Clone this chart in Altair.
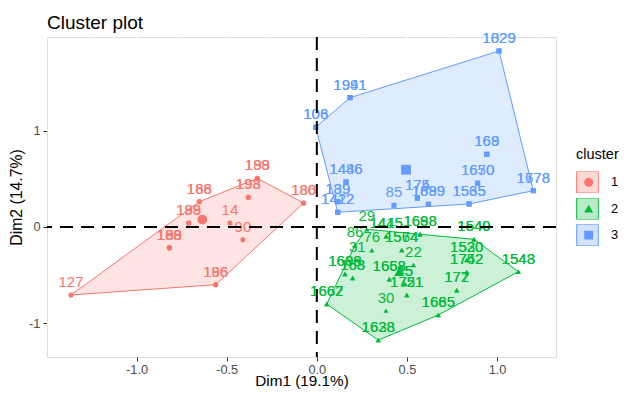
import altair as alt
import pandas as pd

# ---------------- data ----------------
CLUSTERS = ["1", "2", "3"]
COLORS = ["#F8766D", "#00BA38", "#619CFF"]
SHAPES = ["circle", "triangle-up", "square"]

# cluster 1 (duplicates = overlapping observations)
C1_X = [-1.364, -0.561, -0.561, -0.818, -0.818, -0.818, -0.711, -0.711, -0.652, -0.652,
        -0.482, -0.410, -0.380, -0.380, -0.330, -0.330, -0.073, -0.073]
C1_Y = [-0.706, -0.599, -0.599, -0.215, -0.215, -0.215, 0.042, 0.042, 0.263, 0.263,
        0.042, -0.132, 0.308, 0.308, 0.505, 0.505, 0.249, 0.249]
C1_LABEL = ["127", "186", "196", "188", "199", "168", "188", "199", "166", "188",
            "14", "90", "193", "198", "188", "199", "186", "180"]

# cluster 2
C2_X = [0.277, 0.385, 0.385, 0.573, 0.573, 0.872, 0.872, 0.212, 0.305, 0.471, 0.471,
        0.225, 0.536, 0.832, 0.832, 0.832, 0.832, 0.156, 0.156, 0.199, 0.199, 0.402, 0.402,
        0.488, 0.488, 0.499, 0.499, 0.776, 0.776, 1.118, 1.118, 0.055, 0.055, 0.384,
        0.674, 0.674, 0.341, 0.341]
C2_Y = [-0.024, -0.097, -0.097, -0.076, -0.076, -0.128, -0.128, -0.190, -0.242, -0.239, -0.239,
        -0.343, -0.395, -0.343, -0.343, -0.470, -0.470, -0.488, -0.488, -0.530, -0.530, -0.543, -0.543,
        -0.592, -0.592, -0.706, -0.706, -0.657, -0.657, -0.464, -0.464, -0.800, -0.800, -0.868,
        -0.914, -0.914, -1.175, -1.175]
C2_LABEL = ["29", "1415", "1445", "1688", "1698", "1549", "1540", "86", "76", "1574", "1564",
            "31", "22", "1530", "1520", "1752", "1742", "1698", "1688", "163", "168", "1668", "1658",
            "15", "45", "1751", "1721", "172", "177", "1548", "1543", "1662", "1667", "30",
            "1685", "1665", "1628", "1638"]

# cluster 3
C3_X = [1.011, 1.011, 0.184, 0.184, -0.006, -0.006, 0.943, 0.943, 0.892, 0.892, 1.201, 1.201,
        0.845, 0.845, 0.619, 0.619, 0.558, 0.558, 0.428, 0.162, 0.162, 0.116, 0.116, 0.116, 0.116]
C3_Y = [1.828, 1.828, 1.343, 1.343, 1.035, 1.035, 0.755, 0.755, 0.454, 0.454, 0.377, 0.377,
        0.239, 0.239, 0.236, 0.236, 0.298, 0.298, 0.225, 0.467, 0.467, 0.263, 0.263, 0.153, 0.153]
C3_LABEL = ["1829", "1029", "1941", "1991", "106", "108", "168", "169", "1650", "1670", "1678", "1778",
            "1535", "1565", "1699", "1889", "175", "174", "85", "1446", "1486", "139", "189", "1412", "1422"]

CENT_X = [-0.635, 0.456, 0.495]
CENT_Y = [0.076, -0.464, 0.595]

X_DOMAIN = [-1.497, 1.327]
Y_DOMAIN = [-1.35, 1.973]
X_MAJOR = [-1.0, -0.5, 0.0, 0.5, 1.0]
X_MINOR = [-1.25, -0.75, -0.25, 0.25, 0.75, 1.25]
Y_MAJOR = [-1.0, 0.0, 1.0]
Y_MINOR = [-0.5, 0.5, 1.5]
ZERO = [0.0]

TITLE = "Cluster plot"
X_TITLE = "Dim1 (19.1%)"
Y_TITLE = "Dim2 (14.7%)"
LEGEND_TITLE = "cluster"

# ---------------- tables ----------------
pts = pd.DataFrame({
    "x": C1_X + C2_X + C3_X,
    "y": C1_Y + C2_Y + C3_Y,
    "label": C1_LABEL + C2_LABEL + C3_LABEL,
    "cluster": ["1"] * len(C1_X) + ["2"] * len(C2_X) + ["3"] * len(C3_X),
})
cent = pd.DataFrame({"x": CENT_X, "y": CENT_Y, "cluster": CLUSTERS})


def convex_hull(xs, ys):
    p = sorted(set(zip(xs, ys)))

    def cross(o, a, b):
        return (a[0] - o[0]) * (b[1] - o[1]) - (a[1] - o[1]) * (b[0] - o[0])

    lower, upper = [], []
    for q in p:
        while len(lower) >= 2 and cross(lower[-2], lower[-1], q) <= 0:
            lower.pop()
        lower.append(q)
    for q in reversed(p):
        while len(upper) >= 2 and cross(upper[-2], upper[-1], q) <= 0:
            upper.pop()
        upper.append(q)
    return lower[:-1] + upper[:-1]


rows = []
for cl, xs_, ys_ in [("1", C1_X, C1_Y), ("2", C2_X, C2_Y), ("3", C3_X, C3_Y)]:
    h = convex_hull(xs_, ys_)
    h = h + [h[0]]
    for i, (hx, hy) in enumerate(h):
        rows.append({"x": hx, "y": hy, "cluster": cl, "o": i})
hull = pd.DataFrame(rows)

# ---------------- encodings ----------------
FONT = "Liberation Sans"
xs = alt.Scale(domain=X_DOMAIN, nice=False, zero=False)
ys = alt.Scale(domain=Y_DOMAIN, nice=False, zero=False)
x_axis = alt.Axis(values=X_MAJOR, labelExpr="replace(format(datum.value, '.1f'), '\u2212', '-')",
                  grid=False, domain=False, tickSize=4, tickColor="#333333", tickWidth=1,
                  labelFontSize=12.8, labelColor="#4D4D4D", labelFont=FONT, labelPadding=2,
                  title=X_TITLE, titleFontSize=15.3, titleFontWeight="normal", titleColor="black",
                  titleFont=FONT, titlePadding=-2)
y_axis = alt.Axis(values=Y_MAJOR, labelExpr="replace(format(datum.value, 'd'), '\u2212', '-')",
                  grid=False, domain=False, tickSize=4, tickColor="#333333", tickWidth=1,
                  labelFontSize=12.8, labelColor="#4D4D4D", labelFont=FONT, labelPadding=3,
                  title=Y_TITLE, titleFontSize=15.8, titleFontWeight="normal", titleColor="black",
                  titleFont=FONT, titlePadding=4)


def X(f="x"):
    return alt.X(f + ":Q", scale=xs, axis=x_axis)


def Y(f="y"):
    return alt.Y(f + ":Q", scale=ys, axis=y_axis)


grid_xmin = alt.Chart(pd.DataFrame({"v": X_MINOR})).mark_rule(color="white", strokeWidth=0.7).encode(x=X("v"))
grid_ymin = alt.Chart(pd.DataFrame({"v": Y_MINOR})).mark_rule(color="white", strokeWidth=0.7).encode(y=Y("v"))
grid_xmaj = alt.Chart(pd.DataFrame({"v": X_MAJOR})).mark_rule(color="white", strokeWidth=1.5).encode(x=X("v"))
grid_ymaj = alt.Chart(pd.DataFrame({"v": Y_MAJOR})).mark_rule(color="white", strokeWidth=1.5).encode(y=Y("v"))

LEG_X = 529
LEG_Y = 111
TITLE_FS = 14.5
TITLE_PAD = 9
ENTRY_Y = LEG_Y + TITLE_FS + TITLE_PAD  # where entries begin when the legend has a title
common = dict(orient="none", clipHeight=21.6, rowPadding=4.4,
              labelFontSize=12.8, labelFont=FONT, labelColor="black", labelOffset=13)

# box fill (light tint) with the visible title and labels
legend_fill = alt.Legend(title=LEGEND_TITLE, legendX=LEG_X, legendY=LEG_Y, symbolType="square",
                         symbolSize=466, symbolStrokeWidth=0, symbolOpacity=0.28,
                         titleFontSize=TITLE_FS, titleFontWeight="normal", titleFont=FONT,
                         titleColor="black", titlePadding=TITLE_PAD, **common)
# box outline
legend_stroke = alt.Legend(title=None, legendX=LEG_X, legendY=ENTRY_Y, symbolType="square",
                           symbolSize=466, symbolStrokeWidth=1, symbolFillColor="transparent",
                           labelExpr="''", **common)
# shape inside the box
legend_shape = alt.Legend(title=None, legendX=LEG_X + 6.3, legendY=ENTRY_Y, symbolSize=80,
                          symbolStrokeWidth=0, labelExpr="''", **common)

hull_layer = alt.Chart(hull).transform_calculate(k="datum.cluster").mark_line(
    fillOpacity=0.2, strokeWidth=1).encode(
    x=X(), y=Y(), order="o:Q", detail="cluster:N",
    fill=alt.Fill("cluster:N", scale=alt.Scale(range=COLORS), legend=legend_fill),
    stroke=alt.Stroke("k:N", scale=alt.Scale(range=COLORS), legend=legend_stroke),
)

color_enc = alt.Color("cluster:N", scale=alt.Scale(domain=CLUSTERS, range=COLORS), legend=legend_shape)
shape_enc = alt.Shape("cluster:N", scale=alt.Scale(domain=CLUSTERS, range=SHAPES), legend=legend_shape)

point_layer = alt.Chart(pts).mark_point(filled=True, size=26, opacity=1).encode(
    x=X(), y=Y(), color=color_enc, shape=shape_enc)

cent_layer = alt.Chart(cent).mark_point(filled=True, size=95, opacity=1).encode(
    x=X(), y=Y(), color=alt.Color("cluster:N", legend=None), shape=alt.Shape("cluster:N", legend=None))

text_layer = alt.Chart(pts).mark_text(dy=-13, fontSize=15, font=FONT).encode(
    x=X(), y=Y(), text="label:N", color=alt.Color("cluster:N", legend=None))

vline = alt.Chart(pd.DataFrame({"v": ZERO})).mark_rule(color="black", strokeWidth=2, strokeDash=[13, 8]).encode(x=X("v"))
hline = alt.Chart(pd.DataFrame({"v": ZERO})).mark_rule(color="black", strokeWidth=2, strokeDash=[13, 8]).encode(y=Y("v"))

chart = alt.layer(
    grid_xmin, grid_ymin, grid_xmaj, grid_ymaj,
    hull_layer, point_layer, cent_layer, text_layer, vline, hline,
).properties(
    width=509, height=320,
    title=alt.TitleParams(TITLE, anchor="start", frame="group", fontSize=19, fontWeight="normal",
                          font=FONT, color="black", offset=5, dy=7),
    padding={"left": 39, "top": 29, "right": 63, "bottom": 33},
    autosize=alt.AutoSizeParams(type="none"),
).configure_view(fill="#EBEBEB", stroke=None).configure(background="white")

chart.save("out.html", embed_options={"renderer": "svg", "actions": False})
